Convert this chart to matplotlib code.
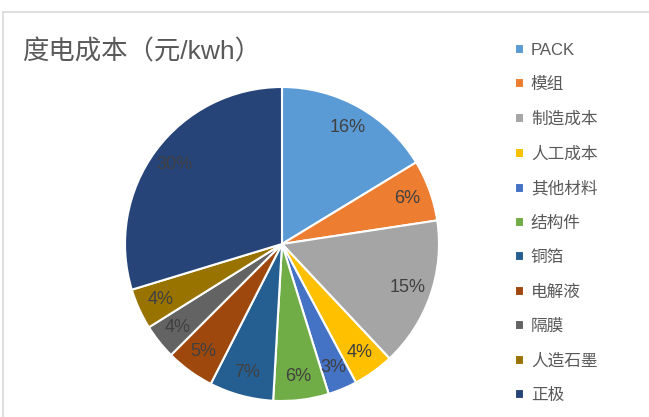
import matplotlib.pyplot as plt
from matplotlib.patches import Rectangle

plt.rcParams['font.family'] = ['Liberation Sans', 'Noto Sans CJK SC', 'DejaVu Sans']

# data (percent of cost per kWh)
labels = ['PACK', '模组', '制造成本', '人工成本', '其他材料', '结构件',
          '铜箔', '电解液', '隔膜', '人造石墨', '正极']
shares = [16.3, 6.3, 15.4, 4.2, 3.0, 5.7, 6.6, 5.0, 3.6, 4.2, 29.7]
colors = ['#5B9BD5', '#ED7D31', '#A5A5A5', '#FFC000', '#4472C4', '#70AD47',
          '#255E91', '#9E480E', '#636363', '#997300', '#264478']

fig = plt.figure(figsize=(6.49, 4.17), dpi=100)

# chart area border (cut off at right and bottom like the screenshot)
fig.patches.append(Rectangle((3 / 649, -0.1), 1.2, 1.1 - 12 / 417,
                             transform=fig.transFigure, fill=False,
                             edgecolor='#D9D9D9', linewidth=1.2))

ax = fig.add_axes([125 / 649, (417 - 401) / 417, 314 / 649, 314 / 417])
wedges, texts, autotexts = ax.pie(
    shares, colors=colors, startangle=90, counterclock=False,
    autopct='%.0f%%', pctdistance=0.85,
    wedgeprops=dict(edgecolor='white', linewidth=1.5),
    textprops=dict(color='#404040', fontsize=13))
ax.set_xlim(-1, 1)
ax.set_ylim(-1, 1)
ax.set_aspect('equal')

fig.text(22 / 649, 1 - 52 / 417, '度电成本（元/kwh）', fontsize=19,
         color='#595959', va='center', ha='left')

fig.legend(wedges, labels, loc='upper left',
           bbox_to_anchor=(500 / 649, 1 - 28 / 417), frameon=False,
           fontsize=12, labelcolor='#595959', handlelength=0.55,
           handleheight=0.55, handletextpad=0.4, labelspacing=1.16)

fig.savefig('out.png', dpi=100)
